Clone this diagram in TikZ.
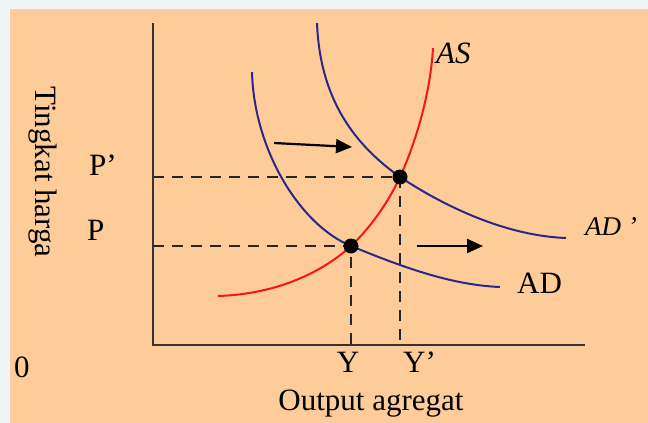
\documentclass[tikz,border=0pt]{standalone}
\usepackage{fontspec}
\setmainfont{Liberation Serif}
\usetikzlibrary{arrows.meta}
\definecolor{peach}{RGB}{254,204,153}
\definecolor{outerbg}{RGB}{240,245,245}
\definecolor{adblue}{RGB}{40,40,140}
\definecolor{asred}{RGB}{250,20,20}
\begin{document}
\begin{tikzpicture}[x=1pt,y=-1pt,
  axis/.style={line width=2.4pt,draw=black!80},
  guide/.style={line width=2.6pt,dash pattern=on 11pt off 8pt,draw=black!85},
  adcurve/.style={line width=2pt,draw=adblue},
  ascurve/.style={line width=2pt,draw=asred},
  shiftarrow/.style={line width=2.2pt,-{Triangle[length=16pt,width=14pt]}},
  lbl/.style={inner sep=0pt,font=\fontsize{31}{31}\selectfont},
  dotstyle/.style={circle,fill=black,inner sep=0pt,minimum size=15pt}]
\useasboundingbox (0,0) rectangle (648,423);
\fill[outerbg] (0,0) rectangle (648,423);
\fill[peach] (10,9) rectangle (648,423);
% axes
\coordinate (origin) at (153,345);
\coordinate (ytop) at (153,23);
\coordinate (xend) at (585,345);
% equilibrium points
\coordinate (E1) at (351,246);
\coordinate (E2) at (400,177);
\coordinate (P1) at (153,246);
\coordinate (P2) at (153,177);
\coordinate (Y1) at (351,345);
\coordinate (Y2) at (400,345);
\draw[guide] (P1) -- (E1) -- (Y1);
\draw[guide] (P2) -- (E2) -- (Y2);
\draw[axis] (ytop) -- (origin) -- (xend);
% curves
\coordinate (ASlow) at (218,296);
\coordinate (AShigh) at (433,48);
\coordinate (ADtop) at (252,72);
\coordinate (ADend) at (500,287);
\coordinate (ADptop) at (317,23);
\coordinate (ADpend) at (566,238);
\draw[ascurve] (ASlow) .. controls (280,294) and (325,270) .. (E1)
  .. controls (370,228) and (388,203) .. (E2)
  .. controls (412,151) and (430,100) .. (AShigh);
\draw[adcurve] (ADtop) .. controls (254,150) and (300,225) .. (E1)
  .. controls (400,266) and (450,285) .. (ADend);
\draw[adcurve] (ADptop) .. controls (320,100) and (355,145) .. (E2)
  .. controls (450,210) and (510,236) .. (ADpend);
\node[dotstyle] (d1) at (E1) {};
\node[dotstyle] (d2) at (E2) {};
% shift arrows
\coordinate (a1s) at (274,143);
\coordinate (a1e) at (352,147);
\coordinate (a2s) at (417,246);
\coordinate (a2e) at (483,246);
\draw[shiftarrow] (a1s) -- (a1e);
\draw[shiftarrow] (a2s) -- (a2e);
% labels
\node[lbl,anchor=base west] (lAS) at (436,63) {\itshape AS};
\node[lbl,anchor=base west,font=\fontsize{27}{27}\selectfont] (lADp) at (585,235) {\itshape AD ’};
\node[lbl,anchor=base west] (lAD) at (517,293) {AD};
\node[lbl,anchor=base west] (lPp) at (89,175) {P’};
\node[lbl,anchor=base west] (lP) at (87,240) {P};
\node[lbl,anchor=base] (lY) at (348,372) {Y};
\node[lbl,anchor=base west] (lYp) at (403,372) {Y’};
\node[lbl,anchor=base west] (l0) at (14,377) {0};
\node[lbl,anchor=base] (lout) at (371,410) {Output agregat};
\node[lbl,rotate=-90] (lty) at (43,172) {Tingkat harga};
\end{tikzpicture}
\end{document}
